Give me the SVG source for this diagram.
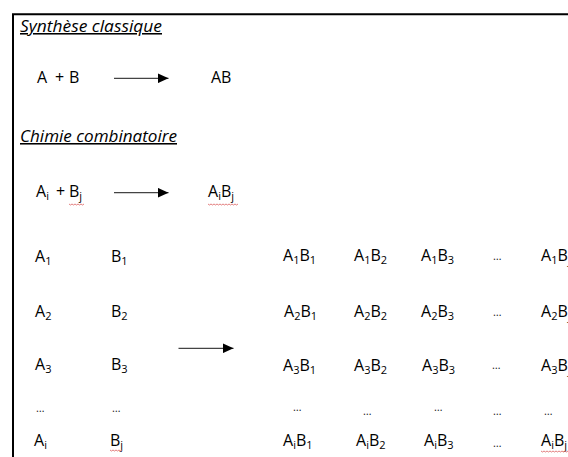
<svg xmlns="http://www.w3.org/2000/svg" width="568" height="457" viewBox="0 0 568 457">
<style>
text{font-family:"Open Sans","Liberation Sans",sans-serif;font-size:16px;fill:#000}
.title{font-style:italic;text-decoration:underline;font-size:15.5px}
.s{font-size:11px}
.d{font-size:11px;fill:#222}
.ar{stroke:#444;stroke-width:1.2;fill:none}
.sq{stroke:#e07070;stroke-width:0.9;fill:none}
</style>
<defs>
<marker id="ah" markerWidth="11" markerHeight="10" refX="11" refY="5" orient="auto" markerUnits="userSpaceOnUse">
<path d="M0,0 L11,5 L0,10 Z" fill="#000"/>
</marker>
</defs>
<rect x="0" y="0" width="568" height="457" fill="#fff"/>
<path d="M13,460 L13,14.3 L575,14.3" fill="none" stroke="#000" stroke-width="2"/>

<g id="titre-synthese"><text class="title" x="20" y="32" textLength="142" lengthAdjust="spacingAndGlyphs">Synthèse classique</text></g>
<g id="AplusB"><text y="83"><tspan x="37">A</tspan><tspan x="55">+</tspan><tspan x="69">B</tspan></text></g>
<g id="AB"><text x="211" y="83">AB</text></g>

<g id="titre-combi"><text class="title" x="20" y="142" textLength="157" lengthAdjust="spacingAndGlyphs">Chimie combinatoire</text></g>
<g id="AiplusBj"><text y="197"><tspan x="36">A</tspan><tspan class="s" dy="3">i</tspan><tspan x="56" dy="-3">+</tspan><tspan x="69">B</tspan><tspan class="s" dy="3">j</tspan></text></g>
<g id="AiBj"><text x="208" y="197">A<tspan class="s" dy="3">i</tspan><tspan dy="-3">B</tspan><tspan class="s" dy="3">j</tspan></text></g>

<g id="colA">
<text x="35" y="262">A<tspan class="s" dy="3">1</tspan></text>
<text x="35" y="317">A<tspan class="s" dy="3">2</tspan></text>
<text x="35" y="370">A<tspan class="s" dy="3">3</tspan></text>
<text class="d" x="36" y="412">…</text>
<text x="34" y="446">A<tspan class="s" dy="3">i</tspan></text>
</g>
<g id="colB">
<text x="111" y="262">B<tspan class="s" dy="3">1</tspan></text>
<text x="111" y="317">B<tspan class="s" dy="3">2</tspan></text>
<text x="111" y="370">B<tspan class="s" dy="3">3</tspan></text>
<text class="d" x="112" y="412">…</text>
<text x="110" y="446">B<tspan class="s" dy="3">j</tspan></text>
</g>

<g id="produits">
<text x="283" y="261">A<tspan class="s" dy="3">1</tspan><tspan dy="-3">B</tspan><tspan class="s" dy="3">1</tspan></text>
<text x="354" y="261">A<tspan class="s" dy="3">1</tspan><tspan dy="-3">B</tspan><tspan class="s" dy="3">2</tspan></text>
<text x="421" y="261">A<tspan class="s" dy="3">1</tspan><tspan dy="-3">B</tspan><tspan class="s" dy="3">3</tspan></text>
<text class="d" x="493" y="260">…</text>
<text x="541" y="261">A<tspan class="s" dy="3">1</tspan><tspan dy="-3">B</tspan><tspan class="s" dy="3">j</tspan></text>

<text x="284" y="317">A<tspan class="s" dy="3">2</tspan><tspan dy="-3">B</tspan><tspan class="s" dy="3">1</tspan></text>
<text x="354" y="317">A<tspan class="s" dy="3">2</tspan><tspan dy="-3">B</tspan><tspan class="s" dy="3">2</tspan></text>
<text x="421" y="317">A<tspan class="s" dy="3">2</tspan><tspan dy="-3">B</tspan><tspan class="s" dy="3">3</tspan></text>
<text class="d" x="493" y="316">…</text>
<text x="541" y="317">A<tspan class="s" dy="3">2</tspan><tspan dy="-3">B</tspan><tspan class="s" dy="3">j</tspan></text>

<text x="283" y="371">A<tspan class="s" dy="3">3</tspan><tspan dy="-3">B</tspan><tspan class="s" dy="3">1</tspan></text>
<text x="354" y="371">A<tspan class="s" dy="3">3</tspan><tspan dy="-3">B</tspan><tspan class="s" dy="3">2</tspan></text>
<text x="422" y="371">A<tspan class="s" dy="3">3</tspan><tspan dy="-3">B</tspan><tspan class="s" dy="3">3</tspan></text>
<text class="d" x="492" y="369">…</text>
<text x="541" y="371">A<tspan class="s" dy="3">3</tspan><tspan dy="-3">B</tspan><tspan class="s" dy="3">j</tspan></text>

<text class="d" x="293" y="411">…</text>
<text class="d" x="363" y="415">…</text>
<text class="d" x="434" y="411">…</text>
<text class="d" x="493" y="415">…</text>
<text class="d" x="544" y="415">…</text>

<text x="283" y="446">A<tspan class="s" dy="3">i</tspan><tspan dy="-3">B</tspan><tspan class="s" dy="3">1</tspan></text>
<text x="356" y="446">A<tspan class="s" dy="3">i</tspan><tspan dy="-3">B</tspan><tspan class="s" dy="3">2</tspan></text>
<text x="424" y="446">A<tspan class="s" dy="3">i</tspan><tspan dy="-3">B</tspan><tspan class="s" dy="3">3</tspan></text>
<text class="d" x="493" y="447">…</text>
<text x="541" y="446">A<tspan class="s" dy="3">i</tspan><tspan dy="-3">B</tspan><tspan class="s" dy="3">j</tspan></text>
</g>

<g id="connecteurs">
<line class="ar" x1="114" y1="78.3" x2="168.5" y2="78.3" marker-end="url(#ah)"/>
<line class="ar" x1="114" y1="192.7" x2="168.5" y2="192.7" marker-end="url(#ah)"/>
<line class="ar" x1="178.5" y1="348.3" x2="233.5" y2="348.3" marker-end="url(#ah)"/>
</g>

<g id="soulignements">
<path class="sq" d="M69,204 l1.5,1 l1.5,-1 l1.5,1 l1.5,-1 l1.5,1 l1.5,-1 l1.5,1 l1.5,-1 l1.5,1 l1.5,-1"/>
<path class="sq" d="M208,204 l1.5,1 l1.5,-1 l1.5,1 l1.5,-1 l1.5,1 l1.5,-1 l1.5,1 l1.5,-1 l1.5,1 l1.5,-1 l1.5,1 l1.5,-1 l1.5,1 l1.5,-1 l1.5,1 l1.5,-1 l1.5,1 l1.5,-1 l1.5,1 l1.5,-1"/>
<path class="sq" d="M110,450 l1.5,1 l1.5,-1 l1.5,1 l1.5,-1 l1.5,1 l1.5,-1 l1.5,1 l1.5,-1"/>
<path class="sq" d="M541,451 l1.5,1 l1.5,-1 l1.5,1 l1.5,-1 l1.5,1 l1.5,-1 l1.5,1 l1.5,-1 l1.5,1 l1.5,-1 l1.5,1 l1.5,-1 l1.5,1 l1.5,-1 l1.5,1 l1.5,-1 l1.5,1 l1.5,-1"/>
</g>
</svg>
